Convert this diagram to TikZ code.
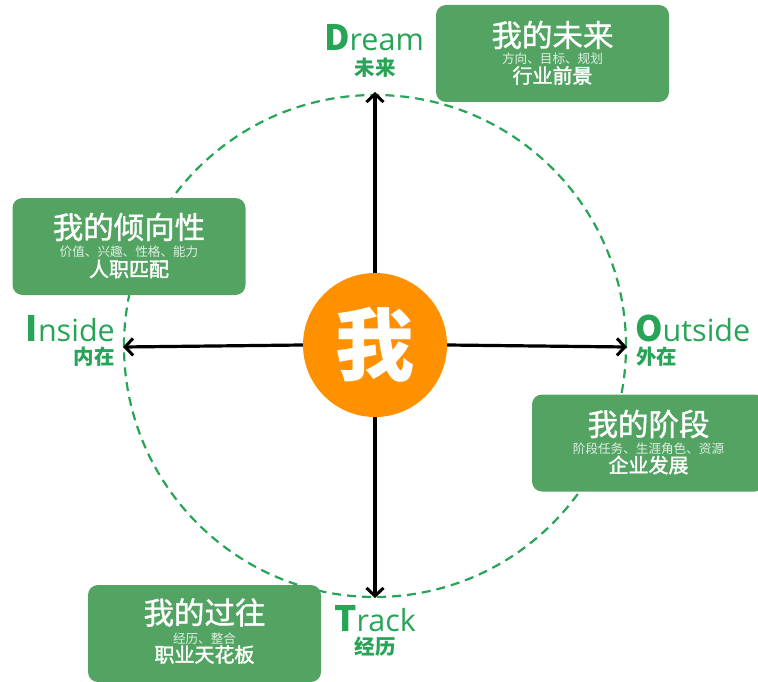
\documentclass[tikz,border=0pt]{standalone}
\usepackage{fontspec}
\setmainfont{Noto Sans CJK SC}
\newfontfamily\cjk{Noto Sans CJK SC}
\newfontfamily\cjkm{Noto Sans CJK SC}[FakeBold=1.2]
\newfontfamily\cjkb{Noto Sans CJK SC}[FakeBold=1.8]
\newfontfamily\lat{Open Sans}
\usetikzlibrary{arrows.meta}
\definecolor{boxgreen}{HTML}{53A463}
\definecolor{txtgreen}{HTML}{27A456}
\definecolor{meorange}{HTML}{FF9000}
\tikzset{
  x=1pt,y=-1pt,
  gbox/.style={fill=boxgreen,rounded corners=10pt,minimum width=233pt,minimum height=97pt,inner sep=0pt},
  ttl/.style={text=white,font=\cjkm\fontsize{30.5}{31}\selectfont,inner sep=0pt},
  subt/.style={text=white!82!boxgreen,font=\cjk\fontsize{12.6}{13}\selectfont,inner sep=0pt},
  btm/.style={text=white,font=\cjkb\fontsize{20}{21}\selectfont,inner sep=0pt},
  axis/.style={line width=3.2pt,-{Straight Barb[length=8pt,width=17pt,line width=3pt]}},
  biglat/.style={text=txtgreen,font=\lat\fontsize{30.5}{32}\selectfont,inner sep=0pt},
  bigcjk/.style={text=txtgreen,font=\cjk\bfseries\fontsize{20.5}{22}\selectfont,inner sep=0pt},
}
\begin{document}
\begin{tikzpicture}
\useasboundingbox (0,0) rectangle (758,682);
% dashed circle
\node[circle,draw=txtgreen,line width=2.2pt,dash pattern=on 9pt off 6pt,minimum size=502pt,inner sep=0pt] (ring) at (375,346) {};
% centre
\node[circle,fill=meorange,minimum size=144pt,inner sep=0pt,text=white,font=\cjk\bfseries\fontsize{79}{80}\selectfont] (me) at (375,345) {我};
\coordinate (top) at (375,92);
\coordinate (bot) at (375,598);
\coordinate (lft) at (123,347);
\coordinate (rgt) at (627,347);
\draw[axis] (me.north) -- (top);
\draw[axis] (me.south) -- (bot);
\draw[axis] (me.west) -- (lft);
\draw[axis] (me.east) -- (rgt);
% boxes
\node[gbox] (b1) at (552.5,53.5) {};
\node[ttl] (b1t) at ([yshift=18.5]b1.center) {我的未来};
\node[subt] (b1s) at ([yshift=-5.5]b1.center) {方向、目标、规划};
\node[btm] (b1b) at ([yshift=-22]b1.center) {行业前景};
\node[gbox] (b2) at (129,246.5) {};
\node[ttl] (b2t) at ([yshift=19.5]b2.center) {我的倾向性};
\node[subt] (b2s) at ([yshift=-5.5]b2.center) {价值、兴趣、性格、能力};
\node[btm] (b2b) at ([yshift=-22.5]b2.center) {人职匹配};
\node[gbox] (b3) at (648.5,443) {};
\node[ttl] (b3t) at ([yshift=19]b3.center) {我的阶段};
\node[subt] (b3s) at ([yshift=-5.5]b3.center) {阶段任务、生涯角色、资源};
\node[btm] (b3b) at ([yshift=-22]b3.center) {企业发展};
\node[gbox] (b4) at (204.5,633.5) {};
\node[ttl] (b4t) at ([yshift=21]b4.center) {我的过往};
\node[subt] (b4s) at ([yshift=-5]b4.center) {经历、整合};
\node[btm] (b4b) at ([yshift=-21]b4.center) {职业天花板};
% axis labels
\node[biglat,anchor=base] (dream) at (374,51) {{\cjk\bfseries\fontsize{35}{36}\selectfont D}ream};
\node[bigcjk] (dreamc) at (375,68) {未来};
\node[biglat,anchor=base east] (inside) at (115,341) {{\cjk\bfseries\fontsize{35}{36}\selectfont I}nside};
\node[bigcjk,anchor=east] (insidec) at (115,357) {内在};
\node[biglat,anchor=base west] (outside) at (635,341) {{\cjk\bfseries\fontsize{35}{36}\selectfont O}utside};
\node[bigcjk,anchor=west] (outsidec) at (636,357) {外在};
\node[biglat,anchor=base] (track) at (375,631) {{\cjk\bfseries\fontsize{35}{36}\selectfont T}rack};
\node[bigcjk] (trackc) at (375,647) {经历};
\end{tikzpicture}
\end{document}
